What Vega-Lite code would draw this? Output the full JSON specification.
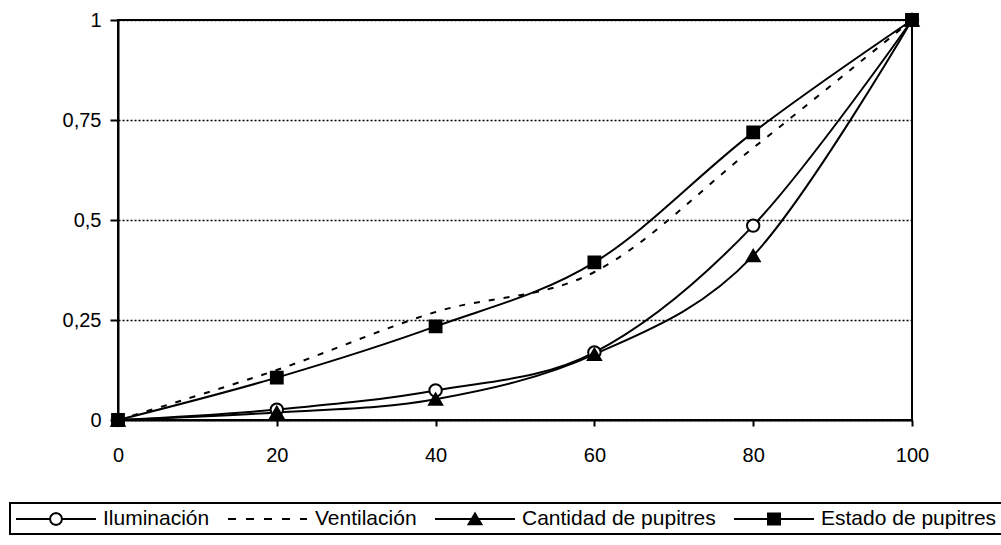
{
  "$schema": "https://vega.github.io/schema/vega-lite/v6.json",
  "width": 794,
  "height": 400,
  "autosize": {"type": "none"},
  "padding": {"left": 118, "top": 20, "right": 89, "bottom": 125},
  "background": "white",
  "config": {
    "view": {"stroke": "black", "strokeWidth": 2},
    "font": "Liberation Sans",
    "axis": {
      "domainColor": "black", "domainWidth": 2,
      "tickColor": "black", "tickWidth": 2,
      "labelColor": "black", "labelFont": "Liberation Sans", "labelFontSize": 20,
      "labelFlush": false,
      "title": null
    },
    "legend": {"strokeWidth": 2}
  },
  "data": {
    "values": [
      {"series": "Iluminación", "x": 0, "y": 0},
      {"series": "Iluminación", "x": 20, "y": 0.026},
      {"series": "Iluminación", "x": 40, "y": 0.074},
      {"series": "Iluminación", "x": 60, "y": 0.169},
      {"series": "Iluminación", "x": 80, "y": 0.486},
      {"series": "Iluminación", "x": 100, "y": 1},
      {"series": "Ventilación", "x": 0, "y": 0},
      {"series": "Ventilación", "x": 20, "y": 0.125},
      {"series": "Ventilación", "x": 40, "y": 0.27},
      {"series": "Ventilación", "x": 60, "y": 0.37},
      {"series": "Ventilación", "x": 80, "y": 0.68},
      {"series": "Ventilación", "x": 100, "y": 1},
      {"series": "Cantidad de pupitres", "x": 0, "y": 0},
      {"series": "Cantidad de pupitres", "x": 20, "y": 0.019},
      {"series": "Cantidad de pupitres", "x": 40, "y": 0.052},
      {"series": "Cantidad de pupitres", "x": 60, "y": 0.164},
      {"series": "Cantidad de pupitres", "x": 80, "y": 0.411},
      {"series": "Cantidad de pupitres", "x": 100, "y": 1},
      {"series": "Estado de pupitres", "x": 0, "y": 0},
      {"series": "Estado de pupitres", "x": 20, "y": 0.106},
      {"series": "Estado de pupitres", "x": 40, "y": 0.234},
      {"series": "Estado de pupitres", "x": 60, "y": 0.394},
      {"series": "Estado de pupitres", "x": 80, "y": 0.719},
      {"series": "Estado de pupitres", "x": 100, "y": 1}
    ]
  },
  "layer": [
    {
      "transform": [{"filter": "datum.series !== 'Ventilación'"}],
      "mark": {"type": "line", "interpolate": "cardinal", "strokeWidth": 2, "color": "black"},
      "encoding": {
        "x": {
          "field": "x", "type": "quantitative",
          "scale": {"domain": [0, 100], "nice": false},
          "axis": {"values": [0, 20, 40, 60, 80, 100], "grid": false, "tickSize": 6, "labelPadding": 19, "title": null}
        },
        "y": {
          "field": "y", "type": "quantitative",
          "scale": {"domain": [0, 1], "nice": false},
          "axis": {
            "values": [0, 0.25, 0.5, 0.75, 1], "grid": true, "gridColor": "black", "gridDash": [2, 2], "gridWidth": 1.5,
            "tickSize": 8, "labelPadding": 9, "title": null,
            "labelExpr": "replace(toString(datum.value), '.', ',')"
          }
        },
        "detail": {"field": "series", "type": "nominal"}
      }
    },
    {
      "transform": [{"filter": "datum.series === 'Ventilación'"}],
      "mark": {"type": "line", "interpolate": "cardinal", "strokeWidth": 2, "color": "black", "strokeDash": [6, 9]},
      "encoding": {
        "x": {"field": "x", "type": "quantitative"},
        "y": {"field": "y", "type": "quantitative"}
      }
    },
    {
      "transform": [{"filter": "datum.series === 'Iluminación'"}],
      "mark": {"type": "point", "shape": "circle", "filled": true, "fill": "white", "stroke": "black", "strokeWidth": 2, "opacity": 1, "size": 154},
      "encoding": {
        "x": {"field": "x", "type": "quantitative"},
        "y": {"field": "y", "type": "quantitative"}
      }
    },
    {
      "transform": [{"filter": "datum.series === 'Cantidad de pupitres'"}],
      "mark": {"type": "point", "shape": "triangle-up", "filled": true, "fill": "black", "stroke": "black", "strokeWidth": 2, "opacity": 1, "size": 170},
      "encoding": {
        "x": {"field": "x", "type": "quantitative"},
        "y": {"field": "y", "type": "quantitative"}
      }
    },
    {
      "transform": [{"filter": "datum.series === 'Estado de pupitres'"}],
      "mark": {"type": "point", "shape": "square", "filled": true, "fill": "black", "stroke": "black", "strokeWidth": 2, "opacity": 1, "size": 140},
      "encoding": {
        "x": {"field": "x", "type": "quantitative"},
        "y": {"field": "y", "type": "quantitative"}
      }
    },
    {
      "transform": [{"filter": "datum.x === 0"}],
      "mark": {"type": "point", "filled": true, "strokeWidth": 2, "opacity": 0, "size": 400},
      "encoding": {
        "x": {"field": "x", "type": "quantitative"},
        "y": {"field": "y", "type": "quantitative"},
        "fill": {
          "field": "series", "type": "nominal",
          "scale": {"domain": ["Iluminación", "Ventilación", "Cantidad de pupitres", "Estado de pupitres"], "range": ["white", "black", "black", "black"]}
        },
        "stroke": {
          "field": "series", "type": "nominal",
          "scale": {"domain": ["Iluminación", "Ventilación", "Cantidad de pupitres", "Estado de pupitres"], "range": ["black", "black", "black", "black"]}
        },
        "shape": {
          "field": "series", "type": "nominal",
          "scale": {
            "domain": ["Iluminación", "Ventilación", "Cantidad de pupitres", "Estado de pupitres"],
            "range": [
              "M-4,0H-0.6M0.6,0H4M0.6,0L0.52,0.3L0.3,0.52L0,0.6L-0.3,0.52L-0.52,0.3L-0.6,0L-0.52,-0.3L-0.3,-0.52L0,-0.6L0.3,-0.52L0.52,-0.3Z",
              "M-4,0H-3.2M-2.2,0H-1.4M-0.4,0H0.4M1.4,0H2.2M3.2,0H3.9",
              "M-4,0H4M0,-0.56L0.64,0.52L-0.64,0.52Z",
              "M-4,0H4M-0.6,-0.56H0.6V0.56H-0.6Z"
            ]
          },
          "legend": {
            "orient": "none", "legendX": -108, "legendY": 483,
            "direction": "horizontal", "columns": 4,
            "title": null, "strokeColor": "black", "padding": 5,
            "symbolSize": 400, "symbolOffset": 30, "labelOffset": 36, "columnPadding": 14,
            "labelFont": "Liberation Sans", "labelFontSize": 21, "labelColor": "black", "labelLimit": 0,
            "symbolStrokeWidth": 2, "symbolStrokeColor": "black", "symbolOpacity": 1
          }
        }
      }
    }
  ]
}
